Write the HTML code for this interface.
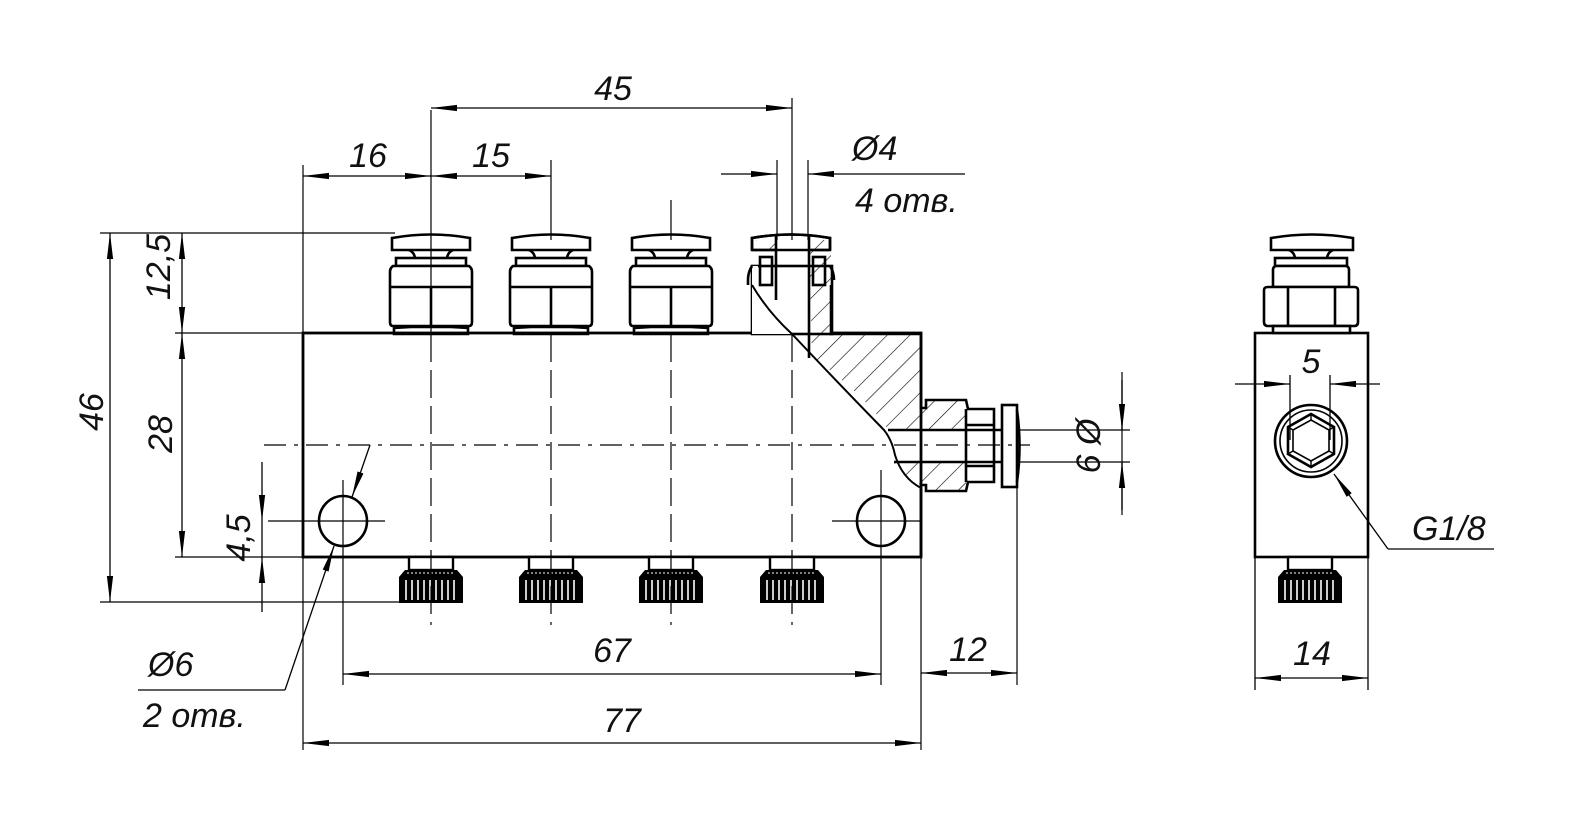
<!DOCTYPE html>
<html><head><meta charset="utf-8"><style>
html,body{margin:0;padding:0;background:#fff;}
svg{display:block}
text{font-family:"Liberation Sans",sans-serif;font-style:italic;font-size:34px;fill:#111;}
</style></head><body>
<svg width="1581" height="840" viewBox="0 0 1581 840" xmlns="http://www.w3.org/2000/svg">
<defs>
<marker id="a" markerUnits="userSpaceOnUse" markerWidth="26" markerHeight="10" refX="25" refY="4" orient="auto-start-reverse" viewBox="0 0 25 8"><path d="M0,1 L25,4 L0,7z" fill="#000"/></marker>
<pattern id="h" patternUnits="userSpaceOnUse" width="16" height="16" patternTransform="rotate(45)"><line x1="0" y1="0" x2="0" y2="16" stroke="#000" stroke-width="1.2"/></pattern>
<g id="fit" fill="#fff" stroke="#000" stroke-width="2.6">
<path d="M-39,250 L-39,238 Q0,231 39,238 L39,250 Z"/>
<path d="M-22,250 Q-17,252 -16,258 M22,250 Q17,252 16,258" fill="none"/>
<rect x="-35" y="258" width="70" height="8"/>
<path d="M-38,266 L38,266 Q41,268 41,272 L41,322 Q41,326 38,326 L-38,326 Q-41,326 -41,322 L-41,272 Q-41,268 -38,266 Z"/>
<line x1="-41" y1="287" x2="41" y2="287"/>
<line x1="0" y1="287" x2="0" y2="326"/>
<path d="M-37,326 L-37,334 L37,334 L37,326 M-37,328 L-20,327 L20,327 L37,328" fill="none"/>
</g>
<g id="nut">
<rect x="-22" y="557" width="44" height="13" fill="#fff" stroke="#000" stroke-width="2.4"/>
<path d="M-26,570 L26,570 L32,577 L32,603 L-32,603 L-32,577 Z" fill="#000"/>
<g stroke="#fff" stroke-width="1.6">
<line x1="-25" y1="580" x2="-25" y2="600"/><line x1="-19" y1="580" x2="-19" y2="600"/><line x1="-13" y1="580" x2="-13" y2="600"/><line x1="-7" y1="580" x2="-7" y2="600"/><line x1="-1" y1="580" x2="-1" y2="600"/><line x1="5" y1="580" x2="5" y2="600"/><line x1="11" y1="580" x2="11" y2="600"/><line x1="17" y1="580" x2="17" y2="600"/><line x1="23" y1="580" x2="23" y2="600"/>
</g>
<g stroke="#fff" stroke-width="1"><line x1="-24" y1="573" x2="24" y2="573" stroke-dasharray="2 2"/></g>
</g>
</defs>

<!-- main body -->
<rect x="303" y="333" width="618" height="224" fill="none" stroke="#000" stroke-width="2.8"/>

<!-- fittings -->
<use href="#fit" x="431" y="0"/>
<use href="#fit" x="551" y="0"/>
<use href="#fit" x="671" y="0"/>
<!-- 4th fitting (partially sectioned) -->
<g fill="#fff" stroke="#000" stroke-width="2.6">
<path d="M752,250 L752,238 Q791,231 830,238 L830,250 Z"/>
<rect x="752" y="266" width="80" height="68"/>
</g>
<!-- sectioned region -->
<path d="M809,250 L831,250 L831,334 L921,334 L921,408 L926,408 L926,400 L966,400 L966,430 L888,430 Q870,400 812,356 Z" fill="url(#h)"/>
<path d="M894,462 L966,462 L966,491 L926,491 L926,485 L921,485 Q900,476 894,462 Z" fill="url(#h)"/>
<path d="M752,266 L758,266 L758,285 Q770,310 792,334 L752,334 Z" fill="#fff"/>
<path d="M756,240 L776,240 L776,250 L756,250 Z M808,240 L830,240 L830,250 L808,250 Z" fill="url(#h)"/>
<g fill="none" stroke="#000" stroke-width="2.6">
<path d="M752,250 L752,238 Q791,231 830,238 L830,250"/>
<line x1="776" y1="234" x2="776" y2="300"/>
<line x1="809" y1="234" x2="809" y2="358"/>
<path d="M752,250 L776,250 M809,250 L830,250"/>
<rect x="760" y="257" width="12" height="28"/>
<rect x="813" y="257" width="12" height="28"/>
<path d="M752,266 Q748,272 748,280 L748,285 M830,266 Q834,272 834,280"/>
<path d="M831,285 L831,334 L921,334 L921,408 L926,408 L926,400 L966,400 L968,409 L994,409 L994,482 L968,482 L966,491 L926,491 L926,485 L921,485 L921,557"/>
<line x1="966" y1="409" x2="966" y2="482"/>
<rect x="1002" y="405" width="15" height="82"/>
<path d="M1017,410 Q1022,446 1017,482"/>
<line x1="888" y1="430" x2="1002" y2="430"/>
<line x1="894" y1="462" x2="1002" y2="462"/>
<line x1="966" y1="425" x2="994" y2="425"/>
<line x1="966" y1="466" x2="994" y2="466"/>
</g>
<!-- break line -->
<path d="M752,285 Q768,312 792,334 Q840,385 884,430 Q892,440 895,455 Q902,478 921,488" fill="none" stroke="#000" stroke-width="2"/>

<!-- knurled nuts -->
<use href="#nut" x="431" y="0"/>
<use href="#nut" x="551" y="0"/>
<use href="#nut" x="671" y="0"/>
<use href="#nut" x="792" y="0"/>

<!-- holes -->
<ellipse cx="343" cy="521" rx="24" ry="25" fill="none" stroke="#000" stroke-width="2.6"/>
<ellipse cx="881" cy="521" rx="24" ry="25" fill="none" stroke="#000" stroke-width="2.6"/>

<!-- center lines -->
<g stroke="#000" stroke-width="1.2" fill="none">
<line x1="264" y1="445" x2="1030" y2="445" stroke-dasharray="22 8 4 8"/>
<line x1="431" y1="334" x2="431" y2="625" stroke-dasharray="28 8"/>
<line x1="551" y1="334" x2="551" y2="625" stroke-dasharray="28 8"/>
<line x1="671" y1="334" x2="671" y2="625" stroke-dasharray="28 8"/>
<line x1="792" y1="334" x2="792" y2="625" stroke-dasharray="28 8"/>
<line x1="431" y1="110" x2="431" y2="334"/>
<line x1="551" y1="160" x2="551" y2="240"/>
<line x1="671" y1="200" x2="671" y2="240"/>
<line x1="792" y1="98" x2="792" y2="240"/>
<line x1="777" y1="160" x2="777" y2="240"/>
<line x1="808" y1="160" x2="808" y2="240"/>
<line x1="303" y1="165" x2="303" y2="333"/>
<line x1="303" y1="557" x2="303" y2="750"/>
<line x1="921" y1="557" x2="921" y2="750"/>
<line x1="1017" y1="487" x2="1017" y2="685"/>
<line x1="343" y1="480" x2="343" y2="685"/>
<line x1="881" y1="470" x2="881" y2="685"/>
<line x1="268" y1="521" x2="385" y2="521"/>
<line x1="832" y1="521" x2="921" y2="521"/>
<line x1="100" y1="233" x2="395" y2="233"/>
<line x1="175" y1="333" x2="303" y2="333"/>
<line x1="175" y1="557" x2="303" y2="557"/>
<line x1="100" y1="602" x2="402" y2="602"/>
<line x1="1017" y1="430" x2="1130" y2="430"/>
<line x1="1017" y1="462" x2="1130" y2="462"/>
<line x1="1122" y1="372" x2="1122" y2="515"/>
</g>

<!-- dimension lines -->
<g stroke="#000" stroke-width="1.3" fill="none" marker-start="url(#a)" marker-end="url(#a)">
<line x1="431" y1="108" x2="792" y2="108"/>
<line x1="303" y1="176" x2="431" y2="176"/>
<line x1="431" y1="176" x2="551" y2="176"/>
<line x1="110" y1="233" x2="110" y2="602"/>
<line x1="182" y1="233" x2="182" y2="333"/>
<line x1="182" y1="333" x2="182" y2="557"/>
<line x1="343" y1="674" x2="881" y2="674"/>
<line x1="303" y1="743" x2="921" y2="743"/>
<line x1="921" y1="673" x2="1017" y2="673"/>
<line x1="1255" y1="678" x2="1368" y2="678"/>
</g>
<g stroke="#000" stroke-width="1.3" fill="none" marker-end="url(#a)">
<line x1="721" y1="174" x2="777" y2="174"/>
<line x1="965" y1="174" x2="808" y2="174"/>
<line x1="262" y1="462" x2="262" y2="521"/>
<line x1="262" y1="612" x2="262" y2="557"/>
<line x1="1122" y1="380" x2="1122" y2="430"/>
<line x1="1122" y1="510" x2="1122" y2="462"/>
<line x1="1235" y1="384" x2="1290" y2="384"/>
<line x1="1380" y1="384" x2="1330" y2="384"/>
<line x1="370" y1="445" x2="352" y2="497"/>
<line x1="285" y1="690" x2="334" y2="546"/>
<line x1="1388" y1="549" x2="1334" y2="474"/>
</g>
<g stroke="#000" stroke-width="1.3" fill="none">
<line x1="138" y1="690" x2="285" y2="690"/>
<line x1="1388" y1="549" x2="1494" y2="549"/>
<line x1="262" y1="521" x2="262" y2="557"/>
<line x1="1255" y1="557" x2="1255" y2="690"/>
<line x1="1368" y1="557" x2="1368" y2="690"/>
<line x1="1290" y1="375" x2="1290" y2="440"/>
<line x1="1330" y1="375" x2="1330" y2="440"/>
</g>

<!-- side view -->
<g fill="#fff" stroke="#000" stroke-width="2.6">
<rect x="1255" y="333" width="113" height="224" fill="none"/>
<path d="M1271,250 L1271,238 Q1312,231 1353,238 L1353,250 Z"/>
<path d="M1289,250 Q1294,252 1295,258 M1333,250 Q1328,252 1327,258" fill="none"/>
<rect x="1275" y="258" width="72" height="8"/>
<path d="M1273,287 L1273,270 Q1273,266 1277,266 L1345,266 Q1349,266 1349,270 L1349,287 Z"/>
<path d="M1264,290 Q1264,287 1268,287 L1354,287 Q1358,287 1358,290 L1358,322 Q1358,326 1354,326 L1268,326 Q1264,326 1264,322 Z"/>
<line x1="1288" y1="287" x2="1288" y2="326"/>
<line x1="1335" y1="287" x2="1335" y2="326"/>
<rect x="1273" y="326" width="77" height="7"/>
<circle cx="1311" cy="441" r="36" fill="none"/>
<circle cx="1311" cy="441" r="31" fill="none" stroke-width="1.6"/>
<polygon points="1311,414 1334,427 1334,454 1311,467 1288,454 1288,427" fill="none"/>
<polygon points="1311,420 1329,430 1329,451 1311,461 1293,451 1293,430" fill="none" stroke-width="1.6"/>
<line x1="1311" y1="414" x2="1311" y2="420" stroke-width="1.4"/>
<line x1="1334" y1="427" x2="1329" y2="430" stroke-width="1.4"/>
<line x1="1334" y1="454" x2="1329" y2="451" stroke-width="1.4"/>
<line x1="1311" y1="467" x2="1311" y2="461" stroke-width="1.4"/>
<line x1="1288" y1="454" x2="1293" y2="451" stroke-width="1.4"/>
<line x1="1288" y1="427" x2="1293" y2="430" stroke-width="1.4"/>
</g>
<use href="#nut" x="1310" y="0"/>

<!-- text -->
<text x="613" y="100" text-anchor="middle">45</text>
<text x="368" y="167" text-anchor="middle">16</text>
<text x="491" y="167" text-anchor="middle">15</text>
<text x="852" y="160">Ø4</text>
<text x="855" y="212" font-size="32">4 отв.</text>
<text transform="translate(103,412) rotate(-90)" text-anchor="middle">46</text>
<text transform="translate(170,267) rotate(-90)" text-anchor="middle">12,5</text>
<text transform="translate(172,434) rotate(-90)" text-anchor="middle">28</text>
<text transform="translate(250,538) rotate(-90)" text-anchor="middle">4,5</text>
<text x="148" y="676">Ø6</text>
<text x="143" y="727" font-size="32">2 отв.</text>
<text x="612" y="662" text-anchor="middle">67</text>
<text x="622" y="732" text-anchor="middle">77</text>
<text x="968" y="661" text-anchor="middle">12</text>
<text transform="translate(1100,446) rotate(-90)" text-anchor="middle">6 Ø</text>
<text x="1311" y="373" text-anchor="middle">5</text>
<text x="1312" y="665" text-anchor="middle">14</text>
<text x="1412" y="540">G1/8</text>
</svg>
</body></html>
